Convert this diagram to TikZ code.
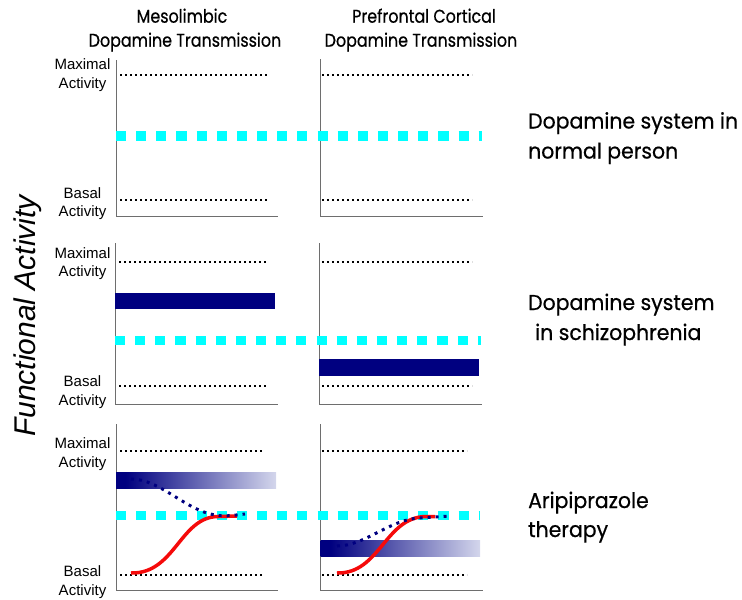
\documentclass[tikz,border=0pt]{standalone}
\usepackage{fontspec}
\setmainfont{Liberation Sans}
\newfontfamily\gothic[FakeStretch=0.86,FakeBold=0.6]{Poppins}
\newfontfamily\gothicwide[FakeStretch=0.95,FakeBold=0.6]{Poppins}
\definecolor{navy}{RGB}{0,0,128}
\definecolor{dcyan}{RGB}{0,255,255}
\definecolor{axgray}{RGB}{110,110,110}
\definecolor{redc}{RGB}{245,10,10}
\pgfdeclarehorizontalshading{barshade}{100bp}{rgb(0bp)=(0,0,0.5); rgb(28bp)=(0,0,0.5); rgb(75bp)=(0.83,0.84,0.925); rgb(100bp)=(0.83,0.84,0.925)}
\begin{document}
\begin{tikzpicture}[x=1pt,y=-1pt,
  axisline/.style={draw=axgray,line width=0.9pt},
  refdots/.style={draw=black,line width=2pt,dash pattern=on 2pt off 3pt},
  cyanline/.style={draw=dcyan,line width=9.5pt,dash pattern=on 10.1pt off 10.05pt},
  lvl/.style={font=\fontsize{15}{18.7}\selectfont,align=center,inner sep=0pt},
  head/.style={font=\gothic\fontsize{18.5}{22}\selectfont,anchor=base,inner sep=0pt},
  side/.style={font=\gothicwide\fontsize{21.5}{26}\selectfont,anchor=base west,inner sep=0pt},
  redcurve/.style={draw=redc,line width=3.5pt},
  bluedots/.style={draw=navy,line width=3pt,dash pattern=on 3pt off 5pt}]
\path[use as bounding box] (0,0) rectangle (742,600);
% headers
\node[head] (h1) at (182,22.7) {Mesolimbic};
\node[head] (h2) at (185,46.7) {Dopamine Transmission};
\node[head] (h3) at (424,22.7) {Prefrontal Cortical};
\node[head] (h4) at (421,46.7) {Dopamine Transmission};
% vertical title
\node[rotate=90,anchor=base,inner sep=0pt,font=\itshape\fontsize{30}{36}\selectfont] (fa) at (35,316) {Functional Activity};
% side texts
\node[side] (s1) at (528,128.5) {Dopamine system in};
\node[side] (s2) at (528,158.5) {normal person};
\node[side] (s3) at (528,310) {Dopamine system};
\node[side] (s4) at (535,340) {in schizophrenia};
\node[side] (s5) at (528,508) {Aripiprazole};
\node[side] (s6) at (528,537) {therapy};
% level labels
\node[lvl] (m1) at (82.5,74.8) {Maximal\\Activity};
\node[lvl] (b1) at (82.5,203.7) {Basal\\Activity};
\node[lvl] (m2) at (82.5,263.5) {Maximal\\Activity};
\node[lvl] (b2) at (82.5,392) {Basal\\Activity};
\node[lvl] (m3) at (82.5,453.8) {Maximal\\Activity};
\node[lvl] (b3) at (82.5,582.3) {Basal\\Activity};
% axes
\draw[axisline] (116,60) -- (116,216.7) -- (278,216.7);
\draw[axisline] (320,59) -- (320,216.7) -- (483,216.7);
\draw[axisline] (115,243) -- (115,404) -- (278,404);
\draw[axisline] (319,243) -- (319,404) -- (482,404);
\draw[axisline] (116,424) -- (116,590.7) -- (278,590.7);
\draw[axisline] (320.7,424) -- (320.7,590.7) -- (483,590.7);
% reference dotted lines
\draw[refdots] (120,75) -- (268,75);
\draw[refdots] (120,200) -- (268,200);
\draw[refdots] (322,75) -- (472,75);
\draw[refdots] (322,200) -- (472,200);
\draw[refdots] (119,262) -- (267,262);
\draw[refdots] (119,386) -- (267,386);
\draw[refdots] (322,262) -- (472,262);
\draw[refdots] (322,386) -- (472,386);
\draw[refdots] (120,450.7) -- (263,450.7);
\draw[refdots] (120,575) -- (263,575);
\draw[refdots] (322,450.7) -- (467,450.7);
\draw[refdots] (322,575.3) -- (467,575.3);
% bars
\fill[navy] (114.5,293) rectangle (274.5,309);
\fill[navy] (319,359) rectangle (479,375.5);
\shade[shading=barshade] (116,472) rectangle (276,488.3);
\shade[shading=barshade] (320.7,540) rectangle (480,556.7);
% cyan normal level
\draw[cyanline] (116,136) -- (481.5,136);
\draw[cyanline] (115,340.5) -- (481,340.5);
\draw[cyanline] (116,515.3) -- (480,515.3);
% aripiprazole curves
\draw[redcurve] (131,573) .. controls (175,574) and (180,517) .. (218,516.5) -- (237,516);
\draw[bluedots] (131,479) .. controls (160,479) and (185,510) .. (215,515) .. controls (225,517) and (235,515) .. (245,514);
\draw[redcurve] (337,573) .. controls (380,574) and (385,517) .. (426,516.5) -- (435,516.5);
\draw[bluedots] (337,546) .. controls (365,546) and (390,519) .. (420,518) -- (450,516);
\end{tikzpicture}
\end{document}
